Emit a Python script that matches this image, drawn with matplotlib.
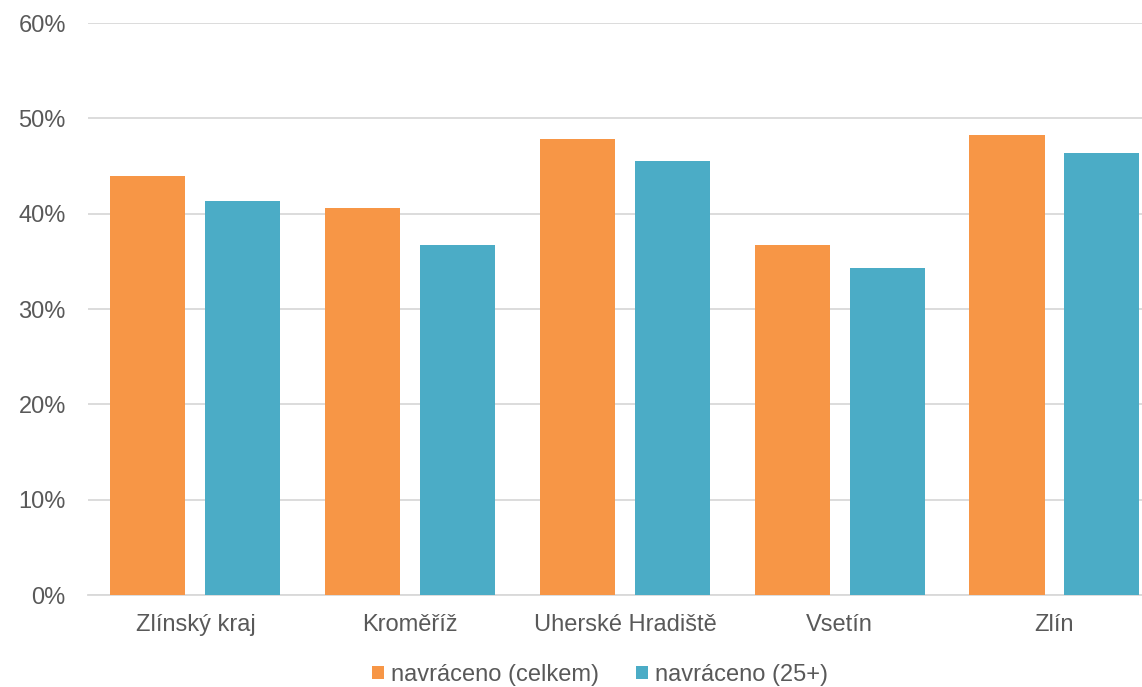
import matplotlib.pyplot as plt
import numpy as np

plt.rcParams['font.family'] = ['Liberation Sans', 'DejaVu Sans']

# Data
categories = ['Zlínský kraj', 'Kroměříž', 'Uherské Hradiště', 'Vsetín', 'Zlín']
celkem = [43.9, 40.6, 47.8, 36.7, 48.3]
nad25 = [41.3, 36.7, 45.5, 34.3, 46.4]
series_names = ['navráceno (celkem)', 'navráceno (25+)']
colors = ['#F79646', '#4BACC6']

fig = plt.figure(figsize=(11.42, 6.87), dpi=100)
ax = fig.add_axes([88 / 1142, 92 / 687, 1 - 88 / 1142, 572 / 687])

x = np.arange(len(categories))
w = 0.35
off = 0.221
ax.bar(x - off, np.array(celkem) / 100, w, color=colors[0], label=series_names[0], zorder=3)
ax.bar(x + off, np.array(nad25) / 100, w, color=colors[1], label=series_names[1], zorder=3)

ax.set_ylim(0, 0.6)
ax.set_xlim(-0.5, 4.408)
ax.set_yticks(np.arange(0, 0.61, 0.1))
ax.set_yticklabels([f'{int(round(v * 100))}%' for v in np.arange(0, 0.61, 0.1)])
ax.set_xticks(x)
ax.set_xticklabels(categories)

ax.grid(axis='y', color='#D9D9D9', linewidth=1.3, zorder=0)
for s in ['top', 'right', 'left']:
    ax.spines[s].set_visible(False)
ax.spines['bottom'].set_color('#D9D9D9')
ax.spines['bottom'].set_linewidth(1.3)
ax.tick_params(axis='both', length=0, labelsize=17, colors='#595959')
ax.tick_params(axis='x', pad=14)
ax.tick_params(axis='y', pad=16)

fig.legend(loc='center', bbox_to_anchor=(600 / 1142, 1 - 675 / 687), ncol=2,
           frameon=False, fontsize=17, labelcolor='#595959',
           handlelength=0.5, handleheight=0.5, handletextpad=0.3, columnspacing=1.55)

plt.savefig('out.png', dpi=100)
